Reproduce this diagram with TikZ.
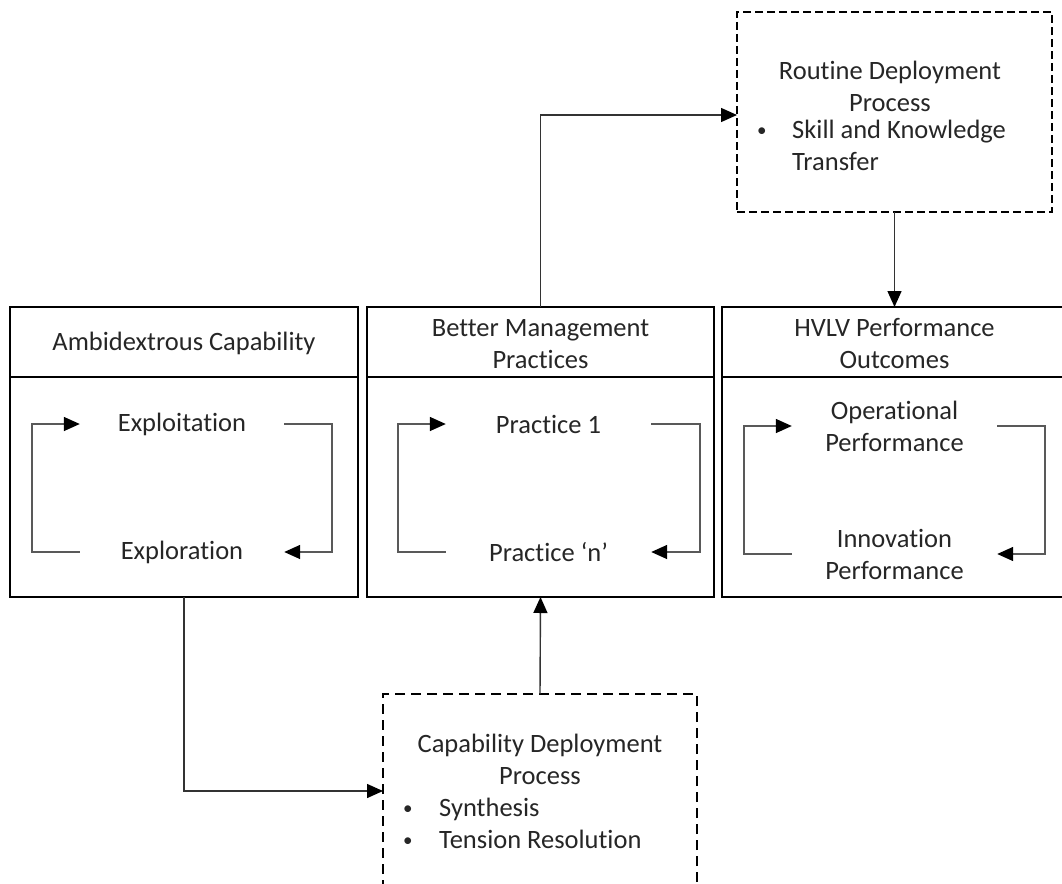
\documentclass[tikz,border=0pt]{standalone}
\usepackage{fontspec}
\setmainfont{Carlito}[Ligatures=NoCommon]
\usetikzlibrary{arrows.meta}
\newcommand{\smallbullet}{\raisebox{1.5pt}{\fontsize{19}{19}\selectfont •}}
\begin{document}
\begin{tikzpicture}[x=1pt,y=-1pt,
  txt/.style={font=\fontsize{26.5}{32}\selectfont, text=black!85, align=center, inner sep=0pt},
  listtxt/.style={font=\fontsize{26.5}{32}\selectfont, text=black!85, inner sep=0pt, anchor=west},
  panel/.style={draw=black, line width=2.6pt, inner sep=0pt, outer sep=0pt, minimum height=290pt},
  process/.style={draw=black, line width=2.4pt, inner sep=0pt, outer sep=0pt},
  conn/.style={draw=black!80, line width=1.4pt, -{Triangle[length=16pt,width=14pt,color=black]}},
  cyc/.style={draw=black!65, line width=1.5pt, -{Triangle[length=16pt,width=14pt,color=black]}}
]
\useasboundingbox (0,0) rectangle (1062,883);
\clip (0,0) rectangle (1062,883);

% the three panels
\node[panel, minimum width=348pt] (amb)  at (184,452)   {};
\node[panel, minimum width=347pt] (bmp)  at (540.5,452) {};
\node[panel, minimum width=345pt] (hvlv) at (894.5,452) {};

% header rules
\coordinate (hdr) at (0,377);
\draw[line width=2.6pt] (amb.west |- hdr) -- (amb.east |- hdr);
\draw[line width=2.6pt] (bmp.west |- hdr) -- (bmp.east |- hdr);
\draw[line width=2.6pt] (hvlv.west |- hdr) -- (hvlv.east |- hdr);

% headers
\node[txt] (ambh)  at (184,343)   {Ambidextrous Capability};
\node[txt] (bmph)  at (540.5,344) {Better Management\\Practices};
\node[txt] (hvlvh) at (894.5,344) {HVLV Performance\\Outcomes};

% panel contents
\node[txt, minimum width=204pt] (exploit) at (182,424)   {Exploitation};
\node[txt, minimum width=204pt] (explor)  at (182,552)   {Exploration};
\node[txt, minimum width=205pt] (prac1)   at (548.5,424) {Practice 1};
\node[txt, minimum width=205pt] (pracn)   at (548.5,552) {Practice ‘n’};
\node[txt, minimum width=205pt] (oper)    at (894.5,426) {Operational\\Performance};
\node[txt, minimum width=205pt] (innov)   at (894.5,554) {Innovation\\Performance};

% cycles inside the panels
\draw[cyc] (explor.west) -- ++(-48,0) |- (exploit.west);
\draw[cyc] (exploit.east) -- ++(48,0) |- (explor.east);
\draw[cyc] (pracn.west) -- ++(-48,0) |- (prac1.west);
\draw[cyc] (prac1.east) -- ++(49,0) |- (pracn.east);
\draw[cyc] (innov.west) -- ++(-48,0) |- (oper.west);
\draw[cyc] (oper.east) -- ++(48,0) |- (innov.east);

% routine deployment process
\node[process, dash pattern=on 8pt off 4pt, minimum width=315pt, minimum height=200pt] (rdp) at (894.5,112) {};
\node[txt] (rdpt) at (890,86) {Routine Deployment\\Process};
\node[listtxt] (rdpl) at (757,148)
  {\begin{tabular}{@{}l@{}l@{}}\makebox[35pt][l]{\smallbullet}&Skill and Knowledge\\&Transfer\end{tabular}};

% capability deployment process (open at the bottom of the page)
\node[process, dash pattern=on 10pt off 6pt, minimum width=314pt, minimum height=194pt] (cdp) at (540,791) {};
\node[txt] (cdpt) at (540,759) {Capability Deployment\\Process};
\node[listtxt] (cdpl) at (403,826)
  {\begin{tabular}{@{}l@{}l@{}}\makebox[36pt][l]{\smallbullet}&Synthesis\\\makebox[36pt][l]{\smallbullet}&Tension Resolution\end{tabular}};

% connectors
\draw[conn] (amb.south) |- (cdp.west);
\draw[conn] (cdp.north) -- (bmp.south);
\draw[conn] (bmp.north) |- ([yshift=-3pt]rdp.west);
\draw[conn] (rdp.south) -- (rdp.south |- hvlv.north);
\end{tikzpicture}
\end{document}
